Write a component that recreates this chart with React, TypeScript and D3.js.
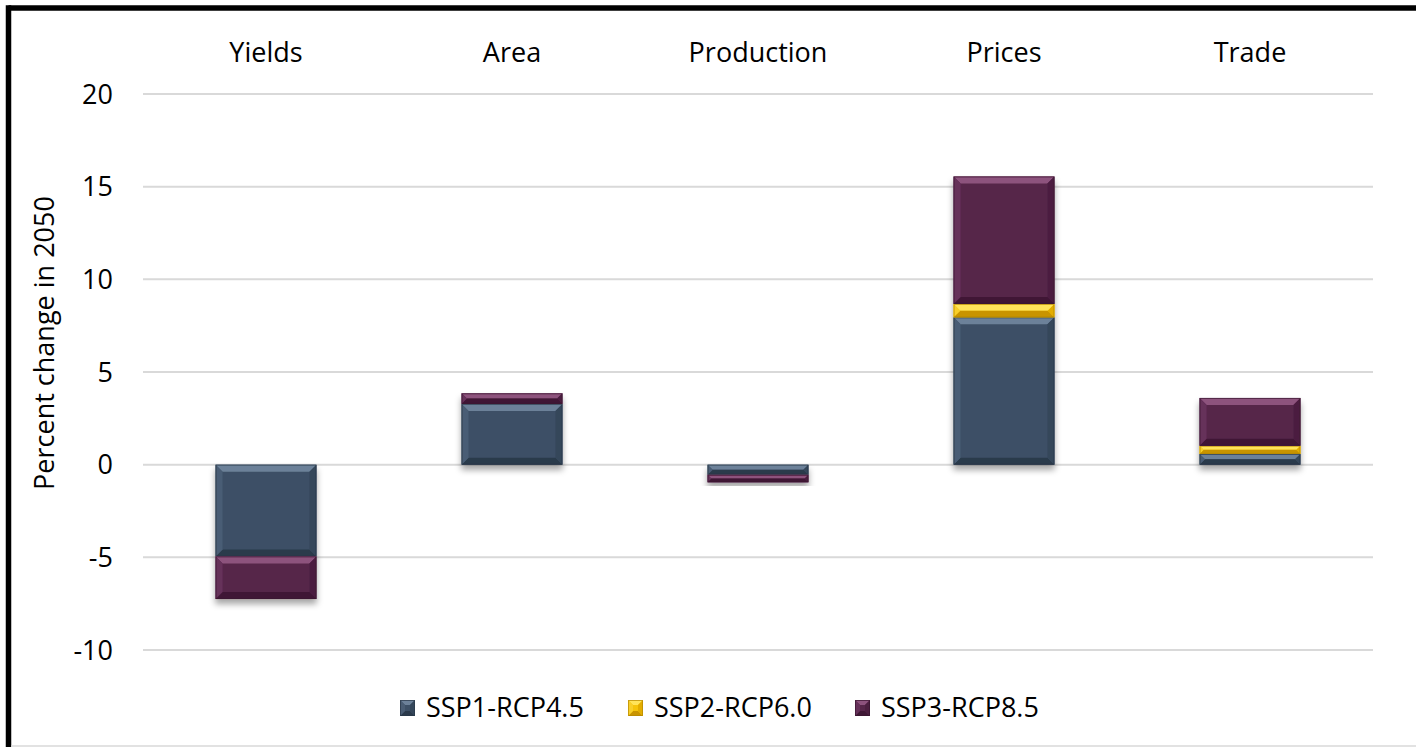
import React from "react";
import * as d3 from "d3";

// Percent change in 2050 by indicator, one array per scenario
const categories = ["Yields", "Area", "Production", "Prices", "Trade"];
const seriesNames = ["SSP1-RCP4.5", "SSP2-RCP6.0", "SSP3-RCP8.5"];
const ssp1 = [-4.95, 3.28, -0.55, 7.95, 0.58];
const ssp2 = [0, 0, 0, 0.72, 0.44];
const ssp3 = [-2.3, 0.57, -0.4, 6.88, 2.58];
const yTicks = [-10, -5, 0, 5, 10, 15, 20];

const W = 1416;
const H = 747;
const FONT = "'Open Sans', 'DejaVu Sans', sans-serif";

type Palette = { base: string; top: string; left: string; right: string; bottom: string; edge: string };
const palettes: Palette[] = [
  { base: "#3d5066", top: "#6c8199", left: "#4a5d74", right: "#34465a", bottom: "#2b3a4b", edge: "#2a3847" },
  { base: "#f5c40c", top: "#ffe45a", left: "#f8cf2a", right: "#e3ad00", bottom: "#c99400", edge: "#b58800" },
  { base: "#57264a", top: "#8d527d", left: "#66315a", right: "#4c1f40", bottom: "#3f1835", edge: "#3a1531" },
];

const rows = categories.map((c, i) => ({
  category: c,
  [seriesNames[0]]: ssp1[i],
  [seriesNames[1]]: ssp2[i],
  [seriesNames[2]]: ssp3[i],
}));

function BevelRect({ x, y, w, h, p, maxB = 7 }: { x: number; y: number; w: number; h: number; p: Palette; maxB?: number }) {
  if (h <= 0.01 || w <= 0) return null;
  const b = Math.min(maxB, h / 2, w / 2);
  const pts = (a: number[][]) => a.map((q) => q.join(",")).join(" ");
  return (
    <g>
      <rect x={x} y={y} width={w} height={h} fill={p.base} />
      <polygon points={pts([[x, y], [x + w, y], [x + w - b, y + b], [x + b, y + b]])} fill={p.top} />
      <polygon points={pts([[x, y + h], [x + w, y + h], [x + w - b, y + h - b], [x + b, y + h - b]])} fill={p.bottom} />
      <polygon points={pts([[x, y], [x + b, y + b], [x + b, y + h - b], [x, y + h]])} fill={p.left} />
      <polygon points={pts([[x + w, y], [x + w - b, y + b], [x + w - b, y + h - b], [x + w, y + h]])} fill={p.right} />
      <rect x={x + 0.5} y={y + 0.5} width={w - 1} height={h - 1} fill="none" stroke={p.edge} strokeWidth={1} strokeOpacity={0.7} />
    </g>
  );
}

export default function App() {
  const plotLeft = 143;
  const plotRight = 1373;

  const x = d3.scaleBand<string>().domain(categories).range([plotLeft, plotRight]).paddingInner(0.59).paddingOuter(0.295);
  const y = d3.scaleLinear().domain([-10, 20]).range([650, 94]);

  const stack = d3
    .stack<any>()
    .keys(seriesNames)
    .offset(d3.stackOffsetDiverging);
  const layers = stack(rows as any);

  const legendX = [400, 628, 855];

  return (
    <div>
      <style>{`body{margin:0}`}</style>
      <svg width={W} height={H} style={{ display: "block", background: "#fff" }} fontFamily={FONT}>
        <defs>
          <filter id="barShadow" x="-20%" y="-20%" width="140%" height="140%">
            <feDropShadow dx="0" dy="5" stdDeviation="3" floodColor="#000" floodOpacity="0.35" />
          </filter>
        </defs>

        {/* frame */}
        <line x1={8.5} y1={8} x2={W} y2={8} stroke="#000" strokeWidth={5.5} />
        <line x1={8.5} y1={5.3} x2={8.5} y2={H} stroke="#000" strokeWidth={5.5} />
        <line x1={11} y1={746} x2={W} y2={746} stroke="#d9d9d9" strokeWidth={1.5} />

        {/* gridlines */}
        {yTicks.map((t) => (
          <line key={t} x1={plotLeft} x2={plotRight} y1={y(t)} y2={y(t)} stroke="#d9d9d9" strokeWidth={2} />
        ))}

        {/* y tick labels */}
        {yTicks.map((t) => (
          <text key={t} x={113} y={y(t)} dy="0.36em" textAnchor="end" fontSize={27} fill="#000">
            {t}
          </text>
        ))}

        {/* axis title */}
        <text transform="translate(54,343) rotate(-90)" textAnchor="middle" fontSize={27} fill="#000">
          Percent change in 2050
        </text>

        {/* category labels */}
        {categories.map((c) => (
          <text key={c} x={(x(c) ?? 0) + x.bandwidth() / 2} y={62} textAnchor="middle" fontSize={27} fill="#000">
            {c}
          </text>
        ))}

        {/* stacked bars */}
        {categories.map((c, ci) => (
          <g key={c} filter="url(#barShadow)">
            {layers.map((layer, si) => {
              const [a, b] = layer[ci];
              const top = y(Math.max(a, b));
              const bottom = y(Math.min(a, b));
              return <BevelRect key={si} x={x(c) ?? 0} y={top} w={x.bandwidth()} h={bottom - top} p={palettes[si]} />;
            })}
          </g>
        ))}

        {/* legend */}
        {seriesNames.map((s, i) => (
          <g key={s}>
            <BevelRect x={legendX[i]} y={700} w={15} h={16} p={palettes[i]} maxB={5} />
            <text x={legendX[i] + 26} y={717} fontSize={27} fill="#000">
              {s}
            </text>
          </g>
        ))}
      </svg>
    </div>
  );
}
